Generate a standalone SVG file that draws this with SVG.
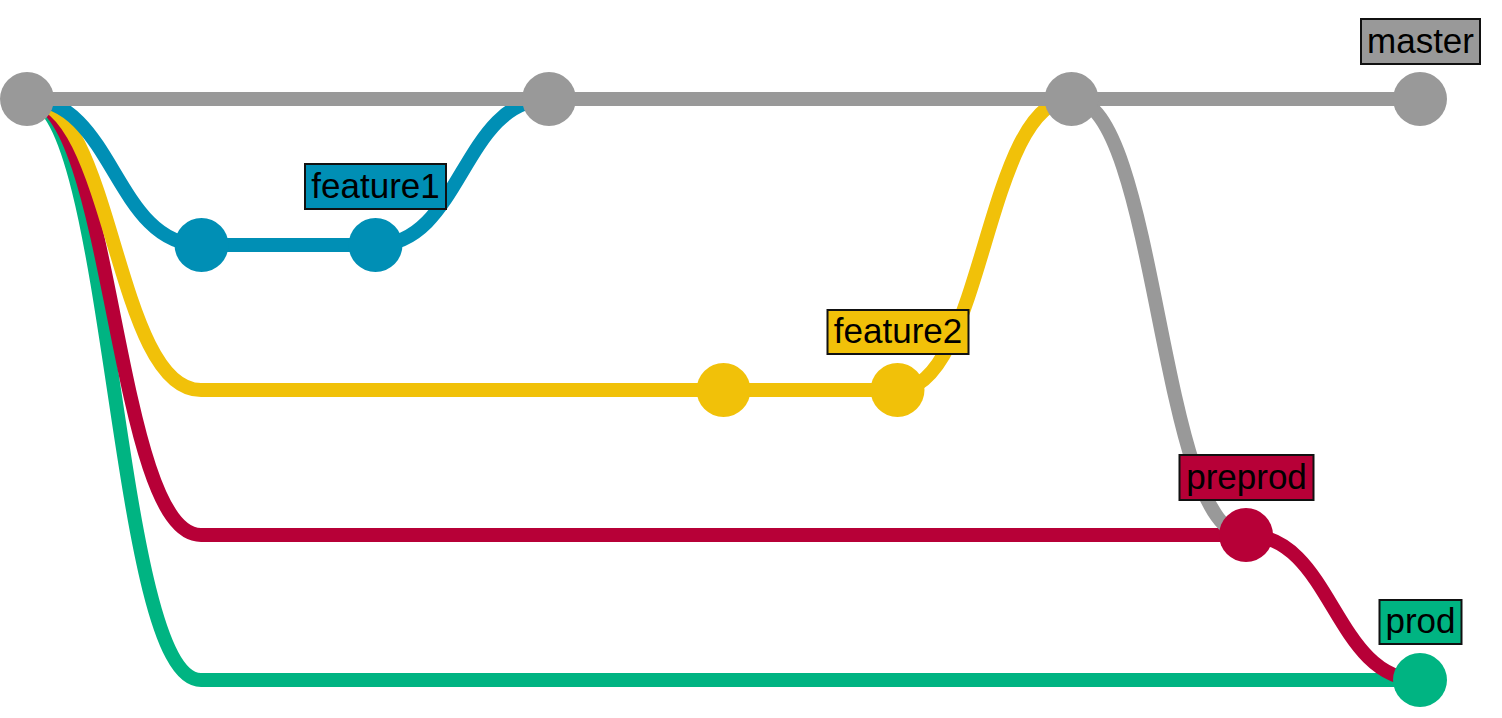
<svg xmlns="http://www.w3.org/2000/svg" width="1502" height="718" viewBox="0 0 1502 718">
<style>
.ln{fill:none;stroke-width:14}
.m{stroke:#999999}.f1{stroke:#008fb5}.f2{stroke:#f1c109}.pp{stroke:#b70037}.pr{stroke:#00b482}
.cm{fill:#999999}.c1{fill:#008fb5}.c2{fill:#f1c109}.cp{fill:#b70037}.cr{fill:#00b482}
.lb{stroke:#111111;stroke-width:2}
.tx{font-family:"Liberation Sans",Arial,sans-serif;font-size:35px;fill:#000000;text-anchor:middle}
</style>
<rect width="1502" height="718" fill="#ffffff"/>
<g id="connectors">
<path class="ln pr" d="M27,99 C114,99 114,680 201,680 H1420"/>
<path class="ln pp" d="M27,99 C114,99 114,535 201,535 H1246"/>
<path class="ln pp" d="M1246,535 C1333,535 1333,680 1420,680"/>
<path class="ln f2" d="M27,99 C114,99 114,390 201,390 H897.5 C984.5,390 984.5,99 1071.5,99"/>
<path class="ln f1" d="M27,99 C114,99 114,245 201,245 H375.5 C462,245 462,99 549,99"/>
<path class="ln m" d="M27,99 H1420"/>
<path class="ln m" d="M1071.5,99 C1158.5,99 1158.5,535 1246,535"/>
</g>
<g id="commit-m0"><circle class="cm" cx="27" cy="99" r="27"/></g>
<g id="commit-f1a"><circle class="c1" cx="201.5" cy="245" r="27"/></g>
<g id="commit-f1b"><circle class="c1" cx="375.5" cy="245" r="27"/></g>
<g id="commit-m1"><circle class="cm" cx="549" cy="99" r="27"/></g>
<g id="commit-f2a"><circle class="c2" cx="723.5" cy="390" r="27"/></g>
<g id="commit-f2b"><circle class="c2" cx="897.5" cy="390" r="27"/></g>
<g id="commit-m2"><circle class="cm" cx="1071.5" cy="99" r="27"/></g>
<g id="commit-pp"><circle class="cp" cx="1246" cy="535" r="27"/></g>
<g id="commit-m3"><circle class="cm" cx="1420" cy="99" r="27"/></g>
<g id="commit-pr"><circle class="cr" cx="1420" cy="680" r="27"/></g>
<g id="label-feature1"><rect class="lb c1" x="305" y="164" width="141" height="45"/><text class="tx" x="375.5" y="198">feature1</text></g>
<g id="label-feature2"><rect class="lb c2" x="827.5" y="310" width="141" height="44"/><text class="tx" x="898" y="343">feature2</text></g>
<g id="label-master"><rect class="lb cm" x="1361" y="19" width="119" height="45"/><text class="tx" x="1420.5" y="53">master</text></g>
<g id="label-preprod"><rect class="lb cp" x="1179.5" y="455" width="134" height="45"/><text class="tx" x="1246.5" y="489">preprod</text></g>
<g id="label-prod"><rect class="lb cr" x="1379.5" y="600" width="82" height="44"/><text class="tx" x="1420.5" y="633">prod</text></g>
</svg>
